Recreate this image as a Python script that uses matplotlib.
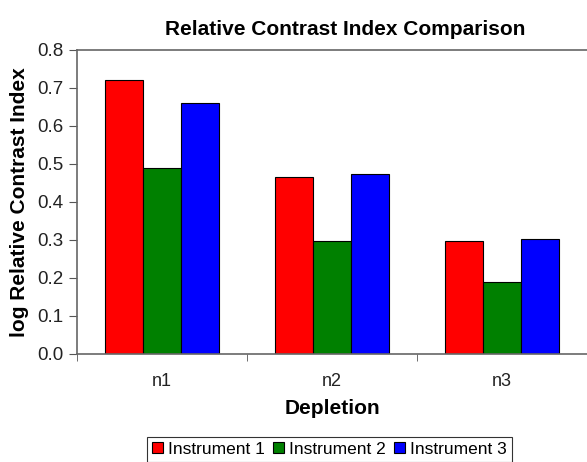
import numpy as np
import matplotlib
matplotlib.use("Agg")
import matplotlib.pyplot as plt

plt.rcParams['font.family'] = ['Liberation Sans', 'DejaVu Sans']

categories = ['n1', 'n2', 'n3']
instrument1 = [0.72, 0.466, 0.297]
instrument2 = [0.489, 0.297, 0.19]
instrument3 = [0.66, 0.474, 0.303]
series = ['Instrument 1', 'Instrument 2', 'Instrument 3']
colors = ['#ff0000', '#008000', '#0000ff']

fig = plt.figure(figsize=(5.87, 4.62), dpi=100)
ax = fig.add_axes([77 / 587, 1 - 354 / 462, 1 - 77 / 587, (354 - 50) / 462])

x = np.arange(len(categories))
w = 0.225
for i, (vals, name, c) in enumerate(zip([instrument1, instrument2, instrument3], series, colors)):
    ax.bar(x + (i - 1) * w, vals, w, color=c, edgecolor='black', linewidth=0.8, label=name)

ax.set_xlim(-0.5, 2.5)
ax.set_ylim(0, 0.8)
ax.set_yticks(np.arange(0, 0.81, 0.1))
ax.set_yticklabels([f'{v:.1f}' for v in np.arange(0, 0.81, 0.1)])
ax.set_xticks(x)
ax.set_xticklabels(categories)
ax.set_xticks([-0.5, 0.5, 1.5], minor=True)
ax.tick_params(axis='x', which='major', length=0, pad=14, labelsize=13, labelcolor='#222222')
ax.tick_params(axis='x', which='minor', length=5, direction='out', color='#555555')
ax.tick_params(axis='y', length=6, direction='out', labelsize=13.5, labelcolor='#222222', color='#555555')

for s in ['left', 'bottom', 'top']:
    ax.spines[s].set_color('#666666')
    ax.spines[s].set_linewidth(1.2)
ax.spines['right'].set_visible(False)

ax.set_title('Relative Contrast Index Comparison', fontsize=15, fontweight='bold', pad=11, x=0.525)
ax.set_ylabel('log Relative Contrast Index', fontsize=15, fontweight='bold', labelpad=6)
ax.set_xlabel('Depletion', fontsize=15, fontweight='bold', labelpad=6)

leg = ax.legend(loc='upper center', bbox_to_anchor=(0.495, -0.272), ncol=3, fontsize=12.5,
                frameon=True, fancybox=False, edgecolor='black', handlelength=0.6,
                handleheight=0.6, handletextpad=0.3, columnspacing=0.5, borderpad=0.3,
                borderaxespad=0)
leg.get_frame().set_linewidth(0.8)

fig.savefig('out.png', dpi=100)
